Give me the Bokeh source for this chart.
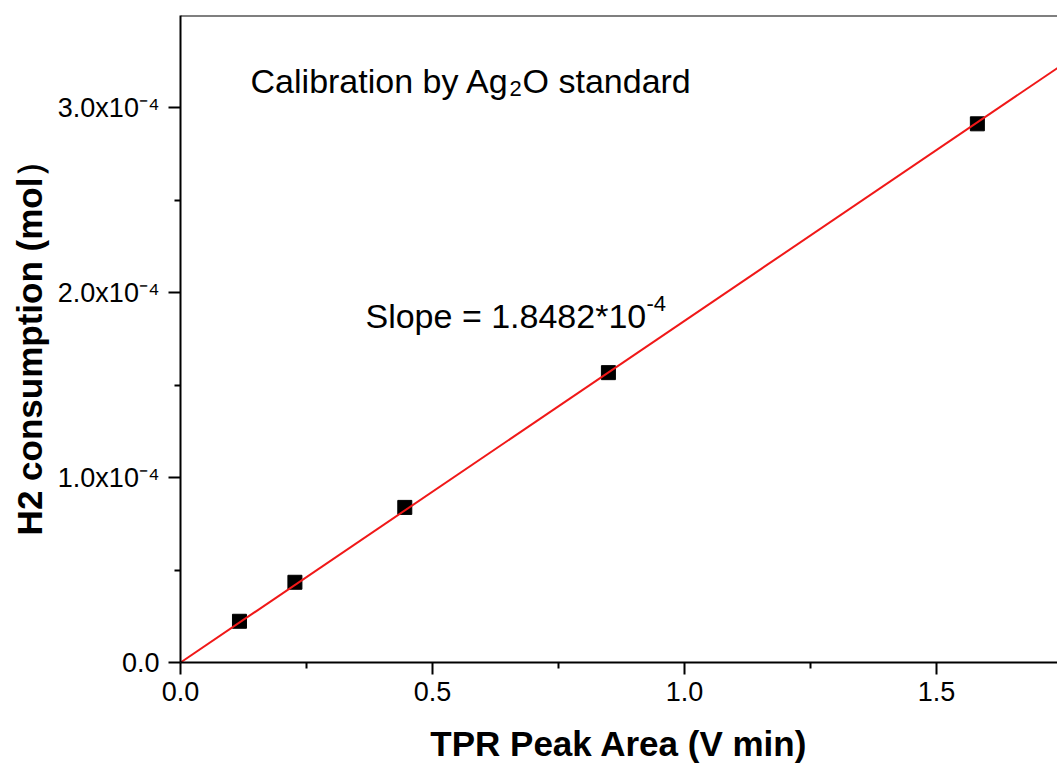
from bokeh.plotting import figure
from bokeh.models import (ColumnDataSource, FixedTicker, CustomJSTickFormatter,
                          Span, Range1d)
from bokeh.core.properties import value
from bokeh.embed import file_html
from bokeh.resources import INLINE

# ---- data ----
peak_area = [0.117, 0.227, 0.445, 0.849, 1.581]              # V min
h2_mol = [0.223e-4, 0.434e-4, 0.839e-4, 1.568e-4, 2.914e-4]  # mol
fit_slope = 1.8482e-4
fit_x = [0.0, 1.76]
fit_y = [fit_slope * x for x in fit_x]

x_ticks = [0.0, 0.5, 1.0, 1.5]
x_minor = [0.25, 0.75, 1.25]
y_ticks = [0.0, 1e-4, 2e-4, 3e-4]
y_minor = [0.5e-4, 1.5e-4, 2.5e-4]

X_END = 1.740
Y_END = 3.5e-4

FONT = "Liberation Sans"

p = figure(width=1057, height=769, output_backend="svg", toolbar_location=None,
           x_range=Range1d(0, X_END), y_range=Range1d(0, Y_END),
           min_border_left=180, min_border_right=0, min_border_top=15,
           min_border_bottom=107)
p.background_fill_color = "white"
p.border_fill_color = "white"
p.outline_line_color = None
p.xgrid.visible = False
p.ygrid.visible = False

# points and fit line
src = ColumnDataSource(dict(x=peak_area, y=h2_mol))
p.scatter("x", "y", source=src, marker="square", size=14, fill_color="black",
          line_color="black")
p.line(fit_x, fit_y, line_color="#f01818", line_width=2)

# top border
p.add_layout(Span(location=Y_END, dimension="width", line_color="black",
                  line_width=2))

# axes
for ax in (p.xaxis[0], p.yaxis[0]):
    ax.axis_line_width = 2
    ax.axis_line_color = "black"
    ax.major_tick_line_width = 2
    ax.minor_tick_line_width = 2
    ax.major_tick_in = 0
    ax.major_tick_out = 12
    ax.minor_tick_in = 0
    ax.minor_tick_out = 6
    ax.major_label_text_font = FONT
    ax.major_label_text_font_size = "27px"
    ax.major_label_text_color = "black"
    ax.axis_label_text_font = FONT
    ax.axis_label_text_font_size = "35px"
    ax.axis_label_text_font_style = "bold"
    ax.axis_label_text_color = "black"

p.xaxis.ticker = FixedTicker(ticks=x_ticks, minor_ticks=x_minor)
p.yaxis.ticker = FixedTicker(ticks=y_ticks, minor_ticks=y_minor)
p.xaxis.formatter = CustomJSTickFormatter(code="return tick.toFixed(1);")
p.yaxis.formatter = CustomJSTickFormatter(code="""
if (Math.abs(tick) < 1e-12) { return "0.0"; }
return (tick * 1e4).toFixed(1) + "x10\u207B\u2074";
""")
p.xaxis.axis_label = "TPR Peak Area (V min)"
p.yaxis.axis_label = "H2 consumption (mol\uFF09"
p.xaxis.major_label_standoff = 7
p.yaxis.major_label_standoff = 9
p.xaxis.axis_label_standoff = 20
p.yaxis.axis_label_standoff = 6

# annotations (sub/superscripts as separate smaller texts)
ann_font = value(FONT)
p.text(x=[0.139], y=[3.146e-4], text=["Calibration by Ag"],
       text_font=ann_font, text_font_size="34px", text_color="black",
       text_baseline="alphabetic", text_align="left")
p.text(x=[0.139], y=[3.146e-4], text=["2"], x_offset=259, y_offset=8,
       text_font=ann_font, text_font_size="22px", text_color="black",
       text_baseline="alphabetic", text_align="left")
p.text(x=[0.139], y=[3.146e-4], text=["O standard"], x_offset=272,
       text_font=ann_font, text_font_size="34px", text_color="black",
       text_baseline="alphabetic", text_align="left")

p.text(x=[0.367], y=[1.876e-4], text=["Slope = 1.8482*10"],
       text_font=ann_font, text_font_size="34px", text_color="black",
       text_baseline="alphabetic", text_align="left")
p.text(x=[0.367], y=[1.876e-4], text=["-4"], x_offset=281, y_offset=-12,
       text_font=ann_font, text_font_size="22px", text_color="black",
       text_baseline="alphabetic", text_align="left")

open("out.html", "w").write(file_html(p, INLINE))
